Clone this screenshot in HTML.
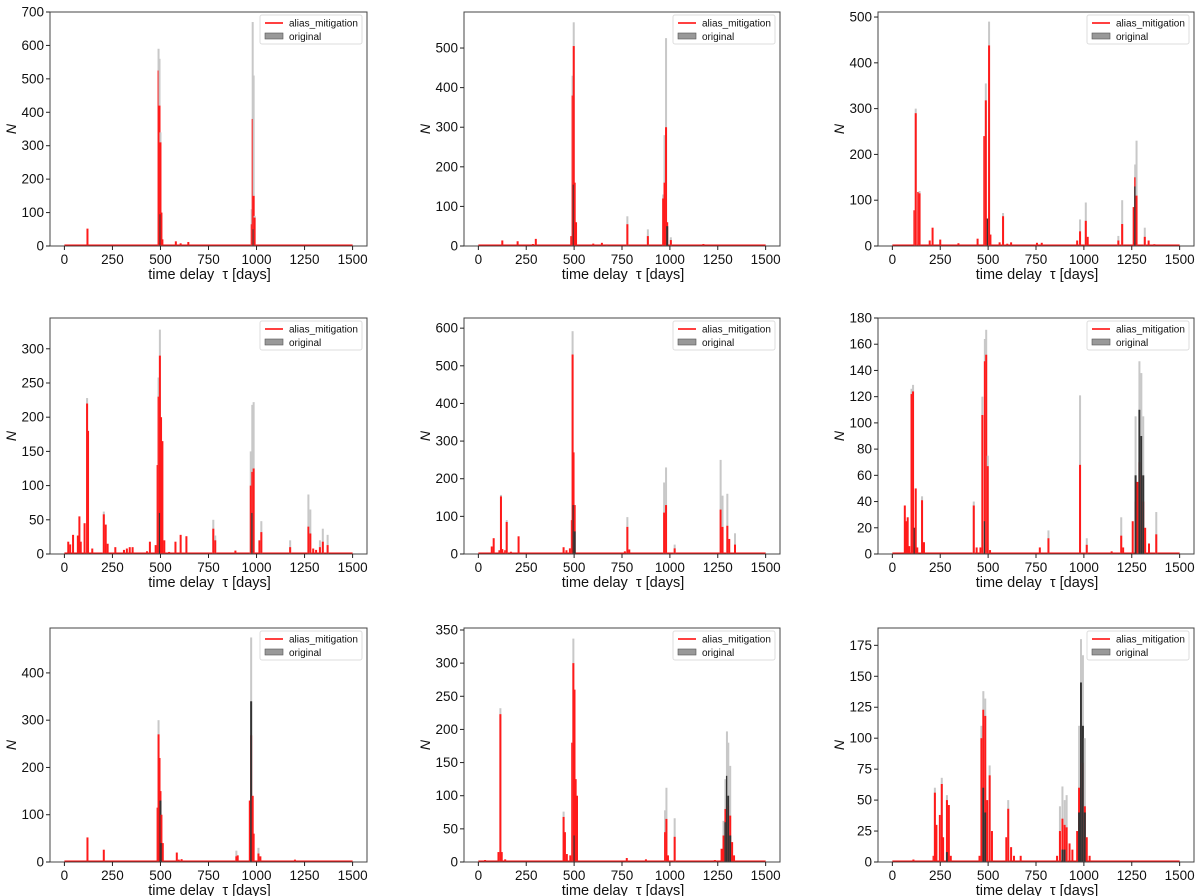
<!DOCTYPE html>
<html><head><meta charset="utf-8">
<style>
html,body{margin:0;padding:0;background:#fff;}
svg{display:block;font-family:"Liberation Sans","DejaVu Sans",sans-serif;}
</style></head>
<body>
<svg id="fig" width="1200" height="896" viewBox="0 0 1200 896" xmlns="http://www.w3.org/2000/svg"></svg>
<script>
// ---- data (tau in days, counts N) ----
const xTicks = [0,250,500,750,1000,1250,1500];
const legendLabels = ["alias_mitigation","original"];

const tau1 = [120,490,495,500,505,510,580,605,645,975,980,985,990];
const red1 = [52,525,420,310,100,20,14,8,12,65,380,150,85];
const orig1= [52,590,560,340,100,20,14,8,12,110,670,510,90];
const dark1= [0,0,0,95,0,0,0,0,0,0,0,50,0];

const tau2 = [125,205,285,300,485,492,498,503,510,600,645,670,778,885,965,972,980,986,1005,1175];
const red2 = [14,12,5,18,25,380,505,160,60,6,8,4,55,25,120,160,300,60,15,5];
const orig2= [14,12,5,18,25,430,565,160,60,6,8,4,75,42,130,280,525,60,22,5];
const dark2= [0,0,0,0,0,0,155,0,0,0,0,0,0,0,0,0,0,50,0,0];

const tau3 = [115,122,135,142,195,210,250,345,445,480,488,498,505,512,560,578,600,620,755,780,965,980,1010,1020,1180,1200,1260,1268,1275,1318,1338,1368];
const red3 = [78,290,118,115,12,40,14,6,16,240,318,60,438,25,8,65,5,8,7,7,12,32,55,20,12,48,85,150,110,20,12,4];
const orig3= [78,300,118,120,12,40,14,6,16,240,355,60,490,25,8,72,5,8,7,7,12,58,95,20,22,100,85,178,230,40,12,4];
const dark3= [0,0,0,0,0,0,0,0,0,0,0,60,0,0,0,0,0,0,0,0,0,0,0,0,0,0,0,130,0,0,0,0];

const tau4 = [20,30,45,70,78,85,105,118,123,145,205,215,225,265,310,325,340,355,430,445,475,485,490,497,503,510,520,545,578,605,635,775,785,890,970,978,985,1015,1025,1175,1270,1280,1295,1310,1330,1345,1370];
const red4 = [18,14,28,27,55,18,45,220,180,8,58,43,15,10,6,8,10,10,4,18,13,130,230,290,200,165,20,3,18,28,26,37,20,5,100,120,125,20,32,10,40,30,8,6,10,18,13];
const orig4= [18,14,28,27,55,18,45,228,180,8,62,43,15,10,6,8,10,10,4,18,13,130,258,328,200,165,20,3,18,28,26,50,27,5,150,218,222,20,48,20,87,65,8,6,20,37,28];
const dark4= [0,0,0,0,0,0,0,0,0,0,0,0,0,0,0,0,0,0,0,0,0,0,0,60,0,0,0,0,0,0,0,0,0,0,0,60,0,0,0,0,0,0,0,0,0,0,0];

const tau5 = [70,80,110,118,125,140,148,170,210,445,460,478,488,492,497,503,765,778,788,970,980,1025,1265,1275,1300,1310,1340];
const red5 = [20,42,10,153,13,10,85,6,47,18,10,15,90,530,270,130,7,72,12,110,130,15,118,72,75,40,25];
const orig5= [20,42,10,157,13,10,90,6,47,18,10,15,90,592,270,130,7,98,12,190,230,25,250,155,160,40,55];
const dark5= [0,0,0,0,0,0,0,0,0,0,0,0,0,0,130,60,0,0,0,0,0,0,0,0,0,0,0];

const tau6 = [65,72,80,88,100,108,116,122,130,155,165,425,440,460,470,483,490,498,510,770,815,980,1015,1145,1195,1205,1255,1270,1280,1290,1300,1310,1320,1340,1378];
const red6 = [37,25,28,6,122,124,20,50,5,41,9,37,5,5,106,147,152,67,3,5,12,68,7,2,14,5,25,40,55,70,60,40,20,8,15];
const orig6= [37,25,28,6,126,129,20,50,5,44,9,40,5,5,120,164,171,75,3,5,18,121,12,2,28,5,25,105,55,147,138,105,20,8,32];
const dark6= [0,0,0,0,0,0,20,0,0,0,0,0,0,0,0,25,0,0,0,0,0,0,0,0,0,0,0,60,0,110,90,60,0,0,0];

const tau7 = [120,205,485,490,495,500,505,512,585,595,610,895,902,965,972,980,985,1010,1020,1200];
const red7 = [52,26,115,270,220,150,100,40,20,5,6,12,14,130,268,140,60,18,12,5];
const orig7= [52,26,115,300,220,150,100,40,20,5,6,24,14,130,475,140,60,30,12,5];
const dark7= [0,0,0,0,0,130,40,0,0,0,0,0,0,0,340,0,0,0,0,0];

const tau8 = [35,105,115,122,140,445,452,462,480,490,496,502,508,515,775,875,975,982,990,1025,1235,1270,1280,1290,1298,1305,1315,1325,1335];
const red8 = [3,15,223,15,4,68,45,12,10,180,300,260,125,100,6,4,45,65,10,38,3,20,40,80,95,85,70,30,10];
const orig8= [3,15,232,15,4,76,45,12,10,180,337,260,125,100,6,4,78,112,10,66,3,20,62,125,197,180,145,30,10];
const dark8= [0,0,0,0,0,0,0,0,0,0,0,40,0,0,0,0,0,0,0,0,0,0,0,60,130,100,40,0,0];

const tau9 = [110,215,222,230,248,258,265,285,295,305,455,465,475,485,495,508,520,595,605,620,635,670,860,875,888,900,910,925,940,965,975,985,995,1005,1015,1030];
const red9 = [2,5,56,30,38,63,20,50,46,5,5,100,123,118,50,70,25,20,43,12,5,5,5,25,35,30,28,15,10,25,60,100,80,45,20,5];
const orig9= [2,5,60,30,38,68,20,54,46,5,5,110,138,132,50,78,25,20,50,12,5,5,5,45,61,50,54,15,10,25,110,180,167,100,20,5];
const dark9= [0,0,0,0,0,0,0,8,0,0,0,0,60,40,0,0,0,0,0,0,0,0,0,0,10,10,0,0,0,0,40,145,110,40,0,0];

const panels = [
 {tau:tau1,red:red1,orig:orig1,dark:dark1,ymax:700,step:100,L:50,R:367,T:12,B:246},
 {tau:tau2,red:red2,orig:orig2,dark:dark2,ymax:591,step:100,L:464,R:780,T:12,B:246},
 {tau:tau3,red:red3,orig:orig3,dark:dark3,ymax:511,step:100,L:878,R:1194,T:12,B:246},
 {tau:tau4,red:red4,orig:orig4,dark:dark4,ymax:345,step:50,L:50,R:367,T:318,B:554},
 {tau:tau5,red:red5,orig:orig5,dark:dark5,ymax:627,step:100,L:464,R:780,T:318,B:554},
 {tau:tau6,red:red6,orig:orig6,dark:dark6,ymax:180,step:20,L:878,R:1194,T:318,B:554},
 {tau:tau7,red:red7,orig:orig7,dark:dark7,ymax:495,step:100,L:50,R:367,T:628,B:862},
 {tau:tau8,red:red8,orig:orig8,dark:dark8,ymax:353,step:50,L:464,R:780,T:628,B:862},
 {tau:tau9,red:red9,orig:orig9,dark:dark9,ymax:189,step:25,L:878,R:1194,T:628,B:862}
];

const NS="http://www.w3.org/2000/svg";
const svg=document.getElementById('fig');
function mk(tag,attrs,parent){const e=document.createElementNS(NS,tag);for(const k in attrs)e.setAttribute(k,attrs[k]);parent.appendChild(e);return e;}

panels.forEach((p,i)=>{
  const g=mk('g',{},svg);
  
  
  const xs=v=>p.L+(v+75)/1650*(p.R-p.L);
  const ys=v=>p.B-v/p.ymax*(p.B-p.T);
  const bw=Math.max(2,8/1650*(p.R-p.L));
  const base=mk('line',{x1:xs(0),x2:xs(1500),y1:p.B-0.8,y2:p.B-0.8,stroke:'#ff0000','stroke-width':1.5},g);
  
  
  p.tau.forEach((t,j)=>{
    const x=xs(t)-bw/2;
    if(p.orig[j]>p.red[j]){
      const r=mk('rect',{x:x,y:ys(p.orig[j]),width:bw,height:p.B-ys(p.orig[j]),fill:'#c8c8c8'},g);
      
      
    }
    const r2=mk('rect',{x:x,y:ys(p.red[j]),width:bw,height:p.B-ys(p.red[j]),fill:'#ff1a1a'},g);
    
    
    if(p.dark[j]>0){
      const r3=mk('rect',{x:x,y:ys(p.dark[j]),width:bw,height:p.B-ys(p.dark[j]),fill:'#333'},g);
      
      
    }
  });
  const fr=mk('rect',{x:p.L,y:p.T,width:p.R-p.L,height:p.B-p.T,fill:'none',stroke:'#444','stroke-width':1},g);
  
  
  xTicks.forEach(v=>{
    const x=xs(v);
    mk('line',{x1:x,x2:x,y1:p.B,y2:p.B+4,stroke:'#222','stroke-width':1},g);
    const t=mk('text',{x:x,y:p.B+18,'text-anchor':'middle','font-size':13.5,fill:'#111'},g);
    t.textContent=v;
    
    
  });
  for(let v=0;v<=p.ymax;v+=p.step){
    const y=ys(v);
    mk('line',{x1:p.L-4,x2:p.L,y1:y,y2:y,stroke:'#222','stroke-width':1},g);
    const t=mk('text',{x:p.L-6,y:y+4.5,'text-anchor':'end','font-size':13.5,fill:'#111'},g);
    t.textContent=v;
    
    
  }
  const xl=mk('text',{x:(p.L+p.R)/2+1,y:p.B+33,'text-anchor':'middle','font-size':14.5,fill:'#111'},g);
  xl.textContent='time delay\u00a0\u00a0τ [days]';
  
  
  const cy=(p.T+p.B)/2;
  const yl=mk('text',{x:p.L-34,y:cy,'text-anchor':'middle','font-size':14,'font-style':'italic',fill:'#111',transform:'rotate(-90 '+(p.L-34)+' '+cy+')'},g);
  yl.textContent='N';
  
  
  const lx=p.R-107, ly=p.T+3;
  const lg=mk('g',{},g);
  
  
  mk('rect',{x:lx,y:ly,width:102,height:29,fill:'#fff',stroke:'#ddd','stroke-width':1,rx:2},lg);
  mk('line',{x1:lx+5,x2:lx+23,y1:ly+8,y2:ly+8,stroke:'#ff0000','stroke-width':1.5},lg);
  const t1=mk('text',{x:lx+29,y:ly+11.5,'font-size':10,fill:'#111'},lg);
  t1.textContent=legendLabels[0];
  
  
  mk('rect',{x:lx+5,y:ly+18,width:18,height:6,fill:'#999',stroke:'#555','stroke-width':0.6},lg);
  const t2=mk('text',{x:lx+29,y:ly+25,'font-size':10,fill:'#111'},lg);
  t2.textContent=legendLabels[1];
  
  
});
</script>
</body></html>
